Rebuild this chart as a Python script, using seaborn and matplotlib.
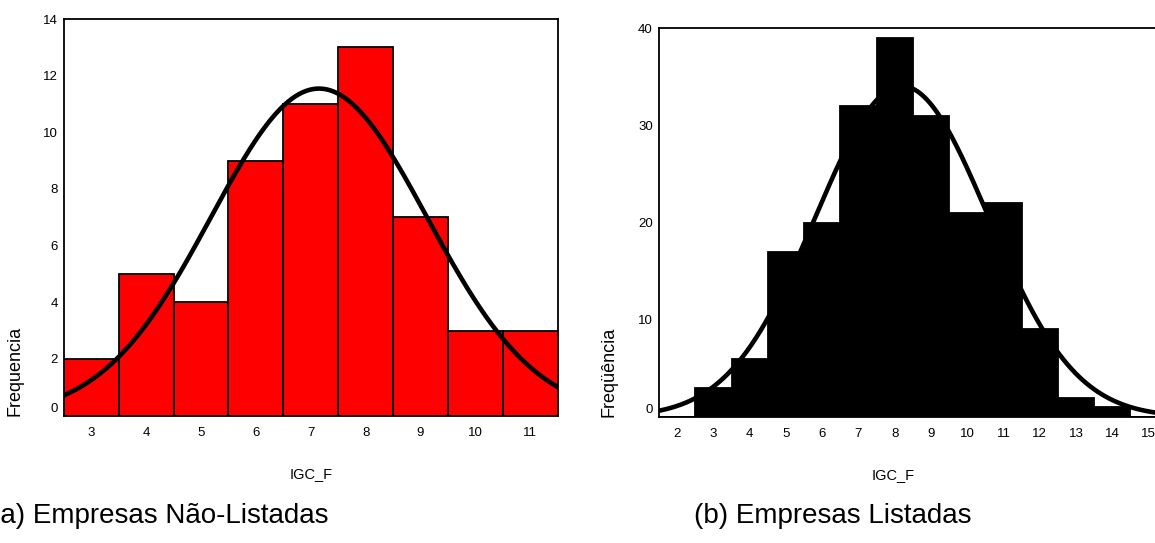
import numpy as np
import pandas as pd
import seaborn as sns
import matplotlib
matplotlib.use("Agg")
import matplotlib.pyplot as plt
from matplotlib.transforms import ScaledTranslation

# IGC_F frequency tables
igc_a = [3, 4, 5, 6, 7, 8, 9, 10, 11]
freq_a = [2, 5, 4, 9, 11, 13, 7, 3, 3]
mean_a, sd_a = 7.15, 1.97

igc_b = [2, 3, 4, 5, 6, 7, 8, 9, 10, 11, 12, 13, 14, 15]
freq_b = [0, 3, 6, 17, 20, 32, 39, 31, 21, 22, 9, 2, 1, 0]
mean_b, sd_b = 8.2, 2.38

yticks_a = [0, 2, 4, 6, 8, 10, 12, 14]
yticks_b = [0, 10, 20, 30, 40]

ylabel_a = "Frequencia"
ylabel_b = "Freqüência"
xlabel = "IGC_F"
caption_a = "(a) Empresas Não-Listadas"
caption_b = "(b) Empresas Listadas"

sns.set_style("white")
plt.rcParams["font.family"] = ["Liberation Sans", "DejaVu Sans"]
plt.rcParams["text.color"] = "black"
plt.rcParams["axes.labelcolor"] = "black"
plt.rcParams["xtick.color"] = "black"
plt.rcParams["ytick.color"] = "black"

fig = plt.figure(figsize=(11.55, 5.43), dpi=100)
ax_a = fig.add_axes([0.0554, 0.2348, 0.4273, 0.7302])
ax_b = fig.add_axes([0.5706, 0.2320, 0.4395, 0.7164])


def normal_curve(lo, hi, n, mean, sd):
    xs = np.linspace(lo, hi, 400)
    ys = n * np.exp(-0.5 * ((xs - mean) / sd) ** 2) / (sd * np.sqrt(2 * np.pi))
    return pd.DataFrame({"x": xs, "y": ys})


def panel(ax, cats, freqs, mean, sd, xlim, yticks, face, ylabel, xlabel_x, ylabel_x):
    df = pd.DataFrame({"igc": cats, "freq": freqs})
    sns.histplot(data=df, x="igc", weights="freq", discrete=True, ax=ax,
                 color=face, edgecolor="black", linewidth=1.3, alpha=1.0,
                 zorder=2)
    curve = normal_curve(xlim[0], xlim[1], sum(freqs), mean, sd)
    sns.lineplot(data=curve, x="x", y="y", ax=ax, color="black",
                 linewidth=3.3, zorder=3)
    ax.set_xlim(*xlim)
    ax.set_ylim(0, yticks[-1])
    ax.set_xticks(cats)
    ax.set_yticks(yticks)
    ax.set_xticklabels([str(c) for c in cats])
    ax.set_yticklabels([str(t) for t in yticks])
    for s in ax.spines.values():
        s.set_linewidth(1.3)
        s.set_color("black")
    ax.tick_params(axis="y", direction="out", length=3, width=2.2, pad=1.5,
                   labelsize=9.5, colors="black")
    ax.tick_params(axis="x", direction="out", length=3.5, width=1.6, pad=4.5,
                   labelsize=9.5, colors="black")
    ax.set_ylabel(ylabel, fontsize=13, loc="bottom", color="black")
    ax.yaxis.set_label_coords(ylabel_x, 0)
    ax.set_xlabel(xlabel, fontsize=10.5, color="black")
    ax.xaxis.set_label_coords(xlabel_x, -0.13)
    ax.grid(False)
    # lift the zero label above the x tick labels
    lab0 = ax.yaxis.get_major_ticks()[0].label1
    lab0.set_transform(lab0.get_transform() +
                       ScaledTranslation(0, 6 / 72, fig.dpi_scale_trans))


panel(ax_a, igc_a, freq_a, mean_a, sd_a, (2.5, 11.5), yticks_a, "#ff0000",
      ylabel_a, 0.5, -0.083)
panel(ax_b, igc_b, freq_b, mean_b, sd_b, (1.5, 15.5), yticks_b, "black",
      ylabel_b, 0.461, -0.081)

fig.text(-0.0075, 0.05, caption_a, fontsize=20, ha="left", va="center",
         color="black")
fig.text(0.721, 0.05, caption_b, fontsize=20, ha="center", va="center",
         color="black")

fig.savefig("out.png", dpi=100)
